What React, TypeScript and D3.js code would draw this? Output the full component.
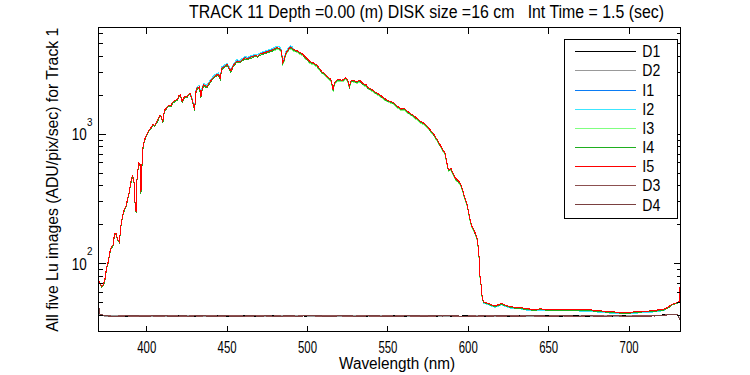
import React from 'react';
import * as d3 from 'd3';

// ---------------- data ----------------
const lightWl = [
  370, 371, 372, 373, 374, 375, 376, 377, 378, 379,
  380, 381, 382, 383, 384, 385, 386, 387, 388, 389,
  390, 391, 392, 392.7, 393.4, 394, 395, 395.8, 396.4, 397,
  397.6, 398.5, 399.5, 400.5, 402, 403, 404, 405, 406, 407,
  408, 409, 410, 411, 412, 413, 414, 415, 416, 417,
  418, 419, 420, 421, 422, 423, 424, 425, 426, 427,
  428, 429, 429.8, 430.5, 431.2, 432, 432.8, 433.7, 434.5, 435.3,
  436.5, 437.4, 438.5, 439.5, 441, 442.6, 444, 444.6, 445.7, 446.7,
  448, 449.9, 450.8, 452.3, 454, 456, 458, 459.5, 461.2, 462.5,
  464.3, 466, 467.5, 469, 470.6, 472, 473.7, 475, 476.5, 478,
  479.5, 481, 482.5, 483.8, 484.6, 485.3, 486.5, 488, 489.2, 490.5,
  491.5, 492.3, 493.5, 495.4, 497, 498.5, 500, 501.6, 503.5, 505.8,
  507.5, 508.9, 510.5, 512, 513, 514.5, 515.5, 516, 516.8, 518.3,
  520, 521.5, 523.4, 525, 526, 527, 527.6, 529, 530.7, 532.5,
  534.8, 536.5, 537.5, 539, 541, 543, 545.2, 547, 549.3, 551,
  553.5, 556, 558.7, 560, 561.5, 563.8, 566, 568, 570, 572.2,
  574, 576.3, 578.5, 580.4, 582, 583.6, 585.6, 586.7, 587.7, 589.2,
  589.8, 591.9, 593.5, 595, 596, 597, 598, 599.1, 600, 600.7,
  601.5, 602.2, 603.3, 604.3, 605.7, 606.3, 606.6, 607, 607.8, 608.6,
  609.4, 611, 612.5, 614, 616.7, 619, 620.9, 623, 626, 629,
  632.3, 636, 640, 645, 650, 655, 660, 665, 670, 675,
  680, 685, 690, 695, 699, 703, 708, 713, 718, 721.5,
  724, 726.5, 728.5, 730.5, 731.3, 732,
];

const I5 = [
  74, 71, 67, 69, 76, 93, 103, 122, 136, 138,
  172, 170, 154, 148, 200, 235, 262, 275, 312, 352,
  420, 478, 450, 300, 250, 470, 598, 590, 355, 564,
  780, 900, 960, 1030, 1100, 1140, 1190, 1170, 1230, 1300,
  1390, 1380, 1240, 1530, 1580, 1640, 1680, 1650, 1760, 1800,
  1830, 1850, 1990, 2005, 1790, 1900, 1960, 1950, 2030, 2066,
  1890, 1700, 1540, 2100, 2260, 2300, 2325, 1946, 2250, 2393,
  2360, 2325, 2450, 2543, 2700, 2826, 2880, 2897, 2698, 3222,
  3300, 3451, 3311, 3069, 3412, 3664, 3614, 3750, 3882, 3820,
  3900, 3980, 4050, 4000, 4150, 4200, 4276, 4320, 4400, 4450,
  4550, 4650, 4600, 4400, 3550, 3700, 4200, 4500, 4700, 4600,
  4500, 4450, 4400, 4250, 4150, 3955, 3800, 3617, 3550, 3410,
  3200, 3032, 2950, 2800, 2743, 2650, 2350, 2200, 2500, 2618,
  2650, 2600, 2720, 2650, 2325, 2550, 2618, 2580, 2543, 2600,
  2440, 2400, 2300, 2250, 2165, 2080, 2005, 1920, 1837, 1800,
  1751, 1640, 1556, 1585, 1520, 1450, 1390, 1327, 1260, 1220,
  1170, 1080, 1000, 920, 850, 780, 714, 598, 531, 545,
  520, 459, 440, 420, 390, 352, 320, 294, 260, 232,
  210, 195, 185, 173, 154, 130, 122, 85, 73, 56,
  51, 50, 49.5, 48.5, 47.2, 48.5, 49.5, 48, 46.7, 46.2,
  45.9, 45, 44.5, 44.8, 44.5, 44.3, 44.6, 44.5, 44.2, 44.2,
  43.5, 43, 42.5, 42.2, 42, 42.5, 43, 43.2, 44, 44.5,
  46, 48.5, 49.5, 50.5, 51, 82,
];

const I1 = [
  74, 71, 67, 69, 76, 93, 103, 122, 136, 138,
  172, 170, 154, 148, 200, 235, 262, 275, 312, 352,
  420, 478, 450, 300, 250, 470, 598, 590, 355, 564,
  780, 900, 960, 1030, 1100, 1140, 1190, 1170, 1230, 1300,
  1390, 1380, 1240, 1530, 1580, 1640, 1680, 1650, 1760, 1800,
  1830, 1850, 1990, 2005, 1790, 1900, 1960, 1950, 2030, 2066,
  1890, 1700, 1540, 2100, 2260, 2300, 2325, 1946, 2250, 2393,
  2407, 2372, 2499, 2594, 2754, 2883, 2938, 2955, 2752, 3286,
  3366, 3520, 3377, 3130, 3480, 3737, 3686, 3825, 3960, 3896,
  3978, 4060, 4131, 4080, 4233, 4284, 4362, 4406, 4488, 4539,
  4641, 4743, 4692, 4488, 3621, 3774, 4284, 4590, 4794, 4692,
  4500, 4450, 4400, 4250, 4150, 3955, 3800, 3617, 3550, 3410,
  3200, 3032, 2950, 2800, 2743, 2650, 2350, 2200, 2500, 2618,
  2650, 2600, 2720, 2650, 2325, 2550, 2618, 2580, 2543, 2600,
  2440, 2400, 2300, 2250, 2165, 2080, 2005, 1920, 1837, 1800,
  1751, 1640, 1556, 1585, 1520, 1450, 1390, 1327, 1260, 1220,
  1170, 1080, 1000, 920, 850, 780, 714, 598, 531, 545,
  520, 459, 440, 420, 390, 352, 320, 294, 260, 232,
  210, 195, 185, 173, 154, 130, 122, 85, 73, 56,
  50, 49, 48.5, 47.5, 46.3, 47.5, 48.5, 47, 45.8, 45.3,
  45, 44.1, 43.6, 43.9, 43.6, 43.4, 43.7, 43.6, 43.3, 43.3,
  42.6, 42.1, 41.7, 41.4, 41.2, 41.7, 42.1, 42.3, 43.1, 43.6,
  46, 48.5, 49.5, 50.5, 51, 82,
];

const I2 = [
  74, 71, 67, 69, 76, 93, 103, 122, 136, 138,
  172, 170, 154, 148, 200, 235, 262, 275, 312, 352,
  420, 478, 450, 300, 250, 470, 598, 590, 355, 564,
  780, 900, 960, 1030, 1100, 1140, 1190, 1170, 1230, 1300,
  1390, 1380, 1240, 1530, 1580, 1640, 1680, 1650, 1760, 1800,
  1830, 1850, 1990, 2005, 1790, 1900, 1960, 1950, 2030, 2066,
  1937, 1743, 1579, 2153, 2317, 2358, 2383, 1995, 2306, 2453,
  2419, 2383, 2511, 2607, 2768, 2897, 2952, 2969, 2765, 3303,
  3383, 3537, 3394, 3146, 3497, 3756, 3704, 3844, 3979, 3916,
  3998, 4080, 4151, 4100, 4254, 4305, 4383, 4428, 4510, 4561,
  4664, 4766, 4715, 4510, 3639, 3793, 4305, 4613, 4818, 4715,
  4500, 4450, 4400, 4250, 4150, 3955, 3800, 3617, 3550, 3410,
  3200, 3032, 2950, 2800, 2743, 2650, 2350, 2200, 2500, 2618,
  2650, 2600, 2720, 2650, 2325, 2550, 2618, 2580, 2543, 2600,
  2440, 2400, 2300, 2250, 2165, 2080, 2005, 1920, 1837, 1800,
  1751, 1640, 1556, 1585, 1520, 1450, 1390, 1327, 1260, 1220,
  1170, 1080, 1000, 920, 850, 780, 714, 598, 531, 545,
  520, 459, 440, 420, 390, 352, 320, 294, 260, 232,
  210, 195, 185, 173, 154, 130, 122, 85, 73, 56,
  49.7, 48.8, 48.3, 47.3, 46, 47.3, 48.3, 46.8, 45.5, 45,
  44.8, 43.9, 43.4, 43.7, 43.4, 43.2, 43.5, 43.4, 43.1, 43.1,
  42.4, 41.9, 41.4, 41.1, 41, 41.4, 41.9, 42.1, 42.9, 43.4,
  46, 48.5, 49.5, 50.5, 51, 82,
];

const I3 = [
  73, 70, 66, 68, 75, 92, 101, 120, 134, 136,
  169, 167, 152, 146, 197, 231, 258, 271, 307, 347,
  414, 471, 443, 296, 246, 463, 589, 581, 350, 556,
  768, 887, 946, 1015, 1084, 1123, 1172, 1152, 1212, 1281,
  1369, 1359, 1221, 1507, 1556, 1615, 1655, 1625, 1734, 1773,
  1803, 1822, 1960, 1975, 1763, 1872, 1931, 1921, 2000, 2035,
  1862, 1675, 1517, 2069, 2226, 2266, 2290, 1917, 2216, 2357,
  2325, 2290, 2413, 2505, 2660, 2784, 2837, 2854, 2658, 3174,
  3251, 3399, 3261, 3023, 3361, 3609, 3560, 3694, 3824, 3763,
  3842, 3920, 3989, 3940, 4088, 4137, 4212, 4255, 4334, 4383,
  4414, 4511, 4462, 4268, 3444, 3589, 4074, 4365, 4559, 4462,
  4365, 4317, 4268, 4123, 4026, 3836, 3686, 3508, 3444, 3308,
  3104, 2941, 2862, 2716, 2661, 2571, 2280, 2134, 2425, 2539,
  2571, 2522, 2638, 2571, 2255, 2474, 2539, 2503, 2467, 2522,
  2367, 2328, 2231, 2183, 2100, 2018, 1945, 1862, 1782, 1746,
  1698, 1591, 1509, 1537, 1474, 1407, 1348, 1287, 1222, 1183,
  1135, 1048, 970, 892, 825, 757, 693, 580, 515, 529,
  504, 445, 427, 407, 378, 341, 310, 285, 252, 225,
  204, 189, 179, 168, 149, 126, 118, 82, 71, 54,
  50.5, 49.5, 49, 48, 46.7, 48, 49, 47.5, 46.2, 45.7,
  45.4, 44.5, 44, 44.3, 44, 43.9, 44.2, 44, 43.8, 43.8,
  43, 42.6, 42.1, 41.8, 41.6, 42.1, 42.6, 42.8, 43.6, 44,
  45.5, 48, 49, 50, 50.5, 80,
];

const I4 = [
  72.5, 69.6, 65.7, 67.6, 74.5, 91, 101, 119.6, 133.3, 135.2,
  168.6, 166.6, 150.9, 145, 196, 230.3, 256.8, 269.5, 305.8, 345,
  411.6, 468.4, 441, 294, 245, 460.6, 586, 578.2, 348, 552.7,
  764.4, 882, 940.8, 1009, 1078, 1117, 1166, 1147, 1205, 1274,
  1362, 1352, 1215, 1499, 1548, 1607, 1646, 1617, 1725, 1764,
  1793, 1813, 1950, 1965, 1754, 1862, 1921, 1911, 1989, 2025,
  1852, 1666, 1509, 2058, 2215, 2254, 2279, 1907, 2205, 2345,
  2313, 2279, 2401, 2492, 2646, 2769, 2822, 2839, 2644, 3158,
  3234, 3382, 3245, 3008, 3344, 3591, 3542, 3675, 3804, 3744,
  3822, 3900, 3969, 3920, 4067, 4116, 4190, 4234, 4312, 4361,
  4482, 4580, 4531, 4334, 3497, 3645, 4137, 4433, 4630, 4531,
  4433, 4383, 4334, 4186, 4088, 3896, 3743, 3563, 3497, 3359,
  3152, 2987, 2906, 2758, 2702, 2610, 2315, 2167, 2463, 2579,
  2610, 2561, 2679, 2610, 2290, 2512, 2579, 2541, 2505, 2561,
  2403, 2364, 2266, 2216, 2133, 2049, 1975, 1891, 1809, 1773,
  1725, 1615, 1533, 1561, 1497, 1428, 1369, 1307, 1241, 1202,
  1152, 1064, 985, 906, 837, 768, 703, 589, 523, 537,
  512, 452, 433, 414, 384, 347, 315, 290, 256, 229,
  207, 192, 182, 170, 152, 128, 120, 84, 72, 55,
  50.2, 49.3, 48.8, 47.8, 46.5, 47.8, 48.8, 47.3, 46, 45.5,
  45.2, 44.3, 43.8, 44.1, 43.8, 43.6, 43.9, 43.8, 43.5, 43.5,
  42.8, 42.4, 41.9, 41.6, 41.4, 41.9, 42.4, 42.6, 43.3, 43.8,
  45.3, 47.8, 48.8, 49.7, 50.2, 79,
];

const darkWl = [
  370, 371, 374, 380, 386, 392, 398, 404,
  410, 416, 422, 428, 434, 440, 446, 452,
  458, 464, 470, 476, 482, 488, 494, 500,
  506, 512, 518, 524, 530, 536, 542, 548,
  554, 560, 566, 572, 578, 584, 590, 596,
  602, 608, 614, 620, 626, 632, 638, 644,
  650, 656, 662, 668, 674, 680, 686, 692,
  698, 704, 710, 716, 722, 728, 730, 732,
];

const D1 = [
  46, 40.5, 39.5, 39.8, 39.2, 39.6, 39.4, 39.9,
  39.3, 39.5, 39.7, 39.2, 39.6, 39.4, 39.8, 39.3,
  39.5, 39.6, 39.2, 39.7, 39.4, 39.5, 39.9, 39.3,
  39.6, 39.4, 39.2, 39.7, 39.5, 39.3, 39.8, 39.4,
  39.6, 39.2, 39.5, 39.7, 39.3, 39.6, 39.4, 39.5,
  39.8, 39.2, 39.6, 39.4, 39.3, 39.7, 39.5, 39.4,
  39.6, 39.2, 39.5, 39.8, 39.4, 39.6, 39.3, 39.5,
  39.7, 39.4, 39.6, 39.9, 40.3, 40.8, 40.5, 36.5,
];
const D2 = [
  47, 40.2, 39.3, 39.6, 39.9, 39.3, 39.7, 39.4,
  39.6, 39.2, 39.5, 39.8, 39.3, 39.7, 39.4, 39.6,
  39.2, 39.8, 39.5, 39.3, 39.7, 39.4, 39.6, 39.5,
  39.3, 39.7, 39.5, 39.2, 39.8, 39.6, 39.3, 39.7,
  39.4, 39.6, 39.3, 39.5, 39.8, 39.2, 39.6, 39.4,
  39.5, 39.7, 39.3, 39.6, 39.8, 39.4, 39.2, 39.6,
  39.4, 39.7, 39.3, 39.5, 39.6, 39.2, 39.7, 39.4,
  39.5, 39.8, 39.3, 39.7, 40.1, 40.6, 40.8, 37,
];
const D3 = [
  48, 40.8, 39.7, 39.4, 39.7, 39.2, 39.8, 39.5,
  39.4, 39.8, 39.3, 39.6, 39.4, 39.9, 39.3, 39.7,
  39.6, 39.3, 39.8, 39.4, 39.6, 39.2, 39.5, 39.8,
  39.4, 39.6, 39.8, 39.3, 39.5, 39.7, 39.2, 39.6,
  39.5, 39.8, 39.3, 39.6, 39.4, 39.7, 39.5, 39.3,
  39.6, 39.4, 39.8, 39.3, 39.6, 39.5, 39.7, 39.3,
  39.5, 39.7, 39.4, 39.2, 39.6, 39.8, 39.4, 39.6,
  39.3, 39.6, 39.8, 39.5, 40.2, 40.9, 40.6, 36,
];
const D4 = [
  47.5, 40.6, 39.6, 39.3, 39.5, 39.8, 39.2, 39.6,
  39.7, 39.3, 39.6, 39.4, 39.8, 39.2, 39.6, 39.5,
  39.3, 39.7, 39.4, 39.6, 39.3, 39.8, 39.4, 39.6,
  39.7, 39.3, 39.5, 39.8, 39.4, 39.5, 39.7, 39.3,
  39.3, 39.5, 39.7, 39.4, 39.6, 39.5, 39.8, 39.4,
  39.3, 39.6, 39.4, 39.7, 39.5, 39.3, 39.6, 39.8,
  39.3, 39.5, 39.6, 39.4, 39.7, 39.4, 39.5, 39.7,
  39.4, 39.5, 39.3, 39.6, 40, 40.7, 40.4, 36.2,
];

const seriesNames = ['D1', 'D2', 'I1', 'I2', 'I3', 'I4', 'I5', 'D3', 'D4'];
const seriesColors = ['#000000', '#999999', '#0a7cf5', '#3ce6ff', '#80ff80', '#1fae1f', '#ff0000', '#8c5050', '#7a4040'];
const seriesValues = [D1, D2, I1, I2, I3, I4, I5, D3, D4];
const seriesWl = [darkWl, darkWl, lightWl, lightWl, lightWl, lightWl, lightWl, darkWl, darkWl];

const xTicks = [400, 450, 500, 550, 600, 650, 700];
const yMajor = [100, 1000];
const yMajorExp = ['2', '3'];
const yMinor = [30, 40, 50, 60, 70, 80, 90, 200, 300, 400, 500, 600, 700, 800, 900, 2000, 3000, 4000, 5000, 6000];

const titleText = 'TRACK 11 Depth =0.00 (m) DISK size =16 cm   Int Time = 1.5 (sec)';
const xLabel = 'Wavelength (nm)';
const yLabel = 'All five Lu images (ADU/pix/sec) for Track 1';

// ---------------- chart ----------------
const W = 750;
const H = 375;
const L = 98.5, R = 680.5, T = 27.5, B = 331.5;
const FONT = '"Liberation Sans", Arial, Helvetica, sans-serif';

const px = (v: number) => Math.floor(v) + 0.5;

export default function App() {
  const x = d3.scaleLinear().domain([370, 732]).range([L, R]);
  const y = d3.scaleLog().domain([30, 6650]).range([B, T]);

  const line = d3
    .line<[number, number]>()
    .x((d) => x(d[0]))
    .y((d) => y(d[1]));

  const paths = seriesValues.map((vals, i) => {
    const wl = seriesWl[i];
    const n = Math.min(wl.length, vals.length);
    const pts: [number, number][] = [];
    for (let k = 0; k < n; k++) pts.push([wl[k], vals[k]]);
    return line(pts) || '';
  });

  const legX0 = 564.5, legX1 = 677.5, legY0 = 39.5, legY1 = 218.5;
  const rowY = (i: number) => 51.7 + i * 19.16;

  return (
    <svg
      width={W}
      height={H}
      viewBox={`0 0 ${W} ${H}`}
      style={{ position: 'absolute', left: 0, top: 0, background: '#fff' }}
      fontFamily={FONT}
    >
      <rect x={0} y={0} width={W} height={H} fill="#fff" />
      <defs>
        <clipPath id="plotclip">
          <rect x={L} y={T} width={R - L} height={B - T} />
        </clipPath>
      </defs>

      {/* data */}
      <g clipPath="url(#plotclip)">
        {paths.map((d, i) => (
          <path
            key={seriesNames[i]}
            d={d}
            fill="none"
            stroke={seriesColors[i]}
            strokeWidth={1}
            shapeRendering="crispEdges"
          />
        ))}
      </g>

      {/* axes box */}
      <rect x={L} y={T} width={R - L} height={B - T} fill="none" stroke="#000" strokeWidth={1} shapeRendering="crispEdges" />

      {/* x ticks */}
      {xTicks.map((t) => {
        const xx = px(x(t));
        return (
          <g key={'xt' + t}>
            <line x1={xx} x2={xx} y1={B} y2={B - 6} stroke="#000" shapeRendering="crispEdges" />
            <line x1={xx} x2={xx} y1={T} y2={T + 6} stroke="#000" shapeRendering="crispEdges" />
            <text x={x(t)} y={352.5} fontSize={16} textAnchor="middle" textLength={19} lengthAdjust="spacingAndGlyphs">
              {t}
            </text>
          </g>
        );
      })}

      {/* y ticks */}
      {yMajor.map((t, i) => {
        const yy = px(y(t));
        return (
          <g key={'ym' + t}>
            <line x1={L} x2={L + 7} y1={yy} y2={yy} stroke="#000" shapeRendering="crispEdges" />
            <line x1={R} x2={R - 7} y1={yy} y2={yy} stroke="#000" shapeRendering="crispEdges" />
            <text x={86.7} y={y(t) + 5.8} fontSize={16} textAnchor="end" textLength={15} lengthAdjust="spacingAndGlyphs">
              10
            </text>
            <text x={86.9} y={y(t) - 8.3} fontSize={11} textLength={5.5} lengthAdjust="spacingAndGlyphs">
              {yMajorExp[i]}
            </text>
          </g>
        );
      })}
      {yMinor.map((t) => {
        const yy = px(y(t));
        return (
          <g key={'yn' + t}>
            <line x1={L} x2={L + 4} y1={yy} y2={yy} stroke="#000" shapeRendering="crispEdges" />
            <line x1={R} x2={R - 4} y1={yy} y2={yy} stroke="#000" shapeRendering="crispEdges" />
          </g>
        );
      })}

      {/* labels */}
      <text x={189} y={18.3} fontSize={18} textLength={475} lengthAdjust="spacingAndGlyphs" style={{ whiteSpace: 'pre' }}>
        {titleText}
      </text>
      <text x={339} y={368.5} fontSize={16} textLength={116} lengthAdjust="spacingAndGlyphs">
        {xLabel}
      </text>
      <text
        transform="translate(58.3,331.7) rotate(-90)"
        x={0}
        y={0}
        fontSize={16}
        textLength={304}
        lengthAdjust="spacingAndGlyphs"
      >
        {yLabel}
      </text>

      {/* legend */}
      <rect x={legX0} y={legY0} width={legX1 - legX0} height={legY1 - legY0} fill="#fff" stroke="#000" strokeWidth={1} shapeRendering="crispEdges" />
      {seriesNames.map((name, i) => {
        const ry = px(rowY(i));
        return (
          <g key={'lg' + name}>
            <line x1={575} x2={636} y1={ry} y2={ry} stroke={seriesColors[i]} strokeWidth={1} shapeRendering="crispEdges" />
            <text
              x={642.3}
              y={rowY(i) + 5.6}
              fontSize={16}
              textLength={name.startsWith('D') ? 18 : 12}
              lengthAdjust="spacingAndGlyphs"
            >
              {name}
            </text>
          </g>
        );
      })}
    </svg>
  );
}
